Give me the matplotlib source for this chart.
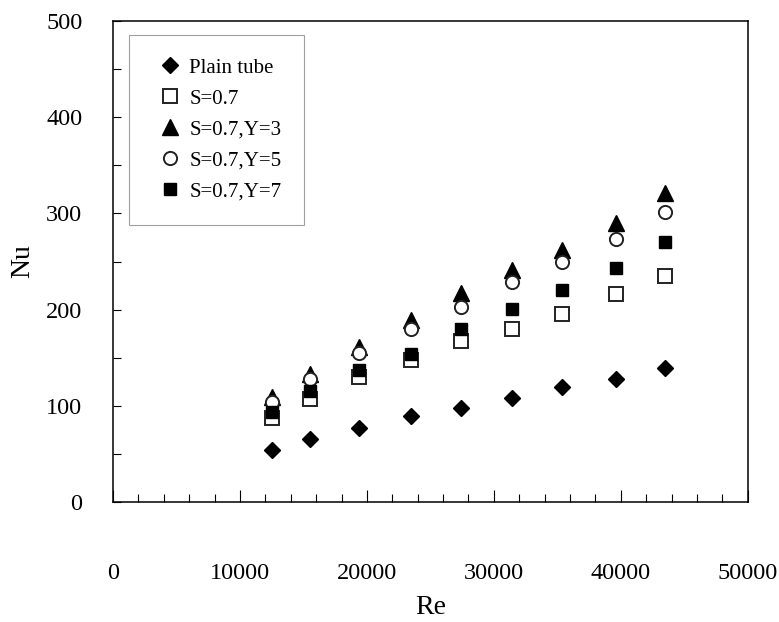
import numpy as np
import matplotlib
matplotlib.use("Agg")
import matplotlib.pyplot as plt
from matplotlib.ticker import MultipleLocator

plt.rcParams.update({
    "font.family": "serif",
    "font.serif": ["Liberation Serif", "DejaVu Serif"],
    "axes.linewidth": 1.1,
    "xtick.direction": "in",
    "ytick.direction": "in",
})

# Reynolds numbers of the test points
re = [12500, 15500, 19400, 23500, 27400, 31400, 35400, 39600, 43500]

# Nusselt numbers for each tube configuration
nu_plain = [54, 65, 77, 89, 98, 108, 120, 127.5, 139]
nu_s07 = [87, 107, 130, 148, 167, 180, 195, 216, 235]
nu_y3 = [109, 133, 161, 189, 217, 241, 262, 290, 321]
nu_y5 = [104, 128, 155, 180, 203, 229, 250, 273, 302]
nu_y7 = [94, 115, 137, 154, 180, 201, 220, 243, 270]

labels = ["Plain tube", "S=0.7", "S=0.7,Y=3", "S=0.7,Y=5", "S=0.7,Y=7"]

fig = plt.figure(figsize=(7.79, 6.22), dpi=100)
ax = fig.add_axes([0.145, 0.193, 0.815, 0.773])

ax.plot(re, nu_plain, "D", color="black", ms=8, ls="none", label=labels[0])
ax.plot(re, nu_s07, "s", mfc="white", mec="#222222", mew=1.4, ms=9.5, ls="none", label=labels[1])
ax.plot(re, nu_y3, "^", color="black", ms=11, ls="none", label=labels[2])
ax.plot(re, nu_y5, "o", mfc="white", mec="#222222", mew=1.4, ms=9.5, ls="none", label=labels[3])
ax.plot(re, nu_y7, "s", color="black", ms=8.5, ls="none", label=labels[4])

ax.set_xlim(0, 50000)
ax.set_ylim(0, 500)
ax.xaxis.set_major_locator(MultipleLocator(10000))
ax.xaxis.set_minor_locator(MultipleLocator(2000))
ax.yaxis.set_major_locator(MultipleLocator(100))
ax.yaxis.set_minor_locator(MultipleLocator(50))

ax.tick_params(axis="x", which="major", length=8.5, width=0.8, labelsize=17.5, pad=44, top=False)
ax.tick_params(axis="x", which="minor", length=5.5, width=0.8, top=False)
ax.tick_params(axis="y", which="both", length=5.5, width=0.8, labelsize=17.5, pad=22, right=False)

ax.set_xlabel("Re", fontsize=20, labelpad=8)
ax.set_ylabel("Nu", fontsize=20, labelpad=8)

leg = ax.legend(loc="upper left", bbox_to_anchor=(0.025, 0.971), fontsize=15,
                frameon=True, fancybox=False, borderpad=1.1, labelspacing=0.55,
                handlelength=1.8, handletextpad=0.0, borderaxespad=0)
leg.get_frame().set_edgecolor("#888888")
leg.get_frame().set_linewidth(0.8)

fig.savefig("out.png", dpi=100)
